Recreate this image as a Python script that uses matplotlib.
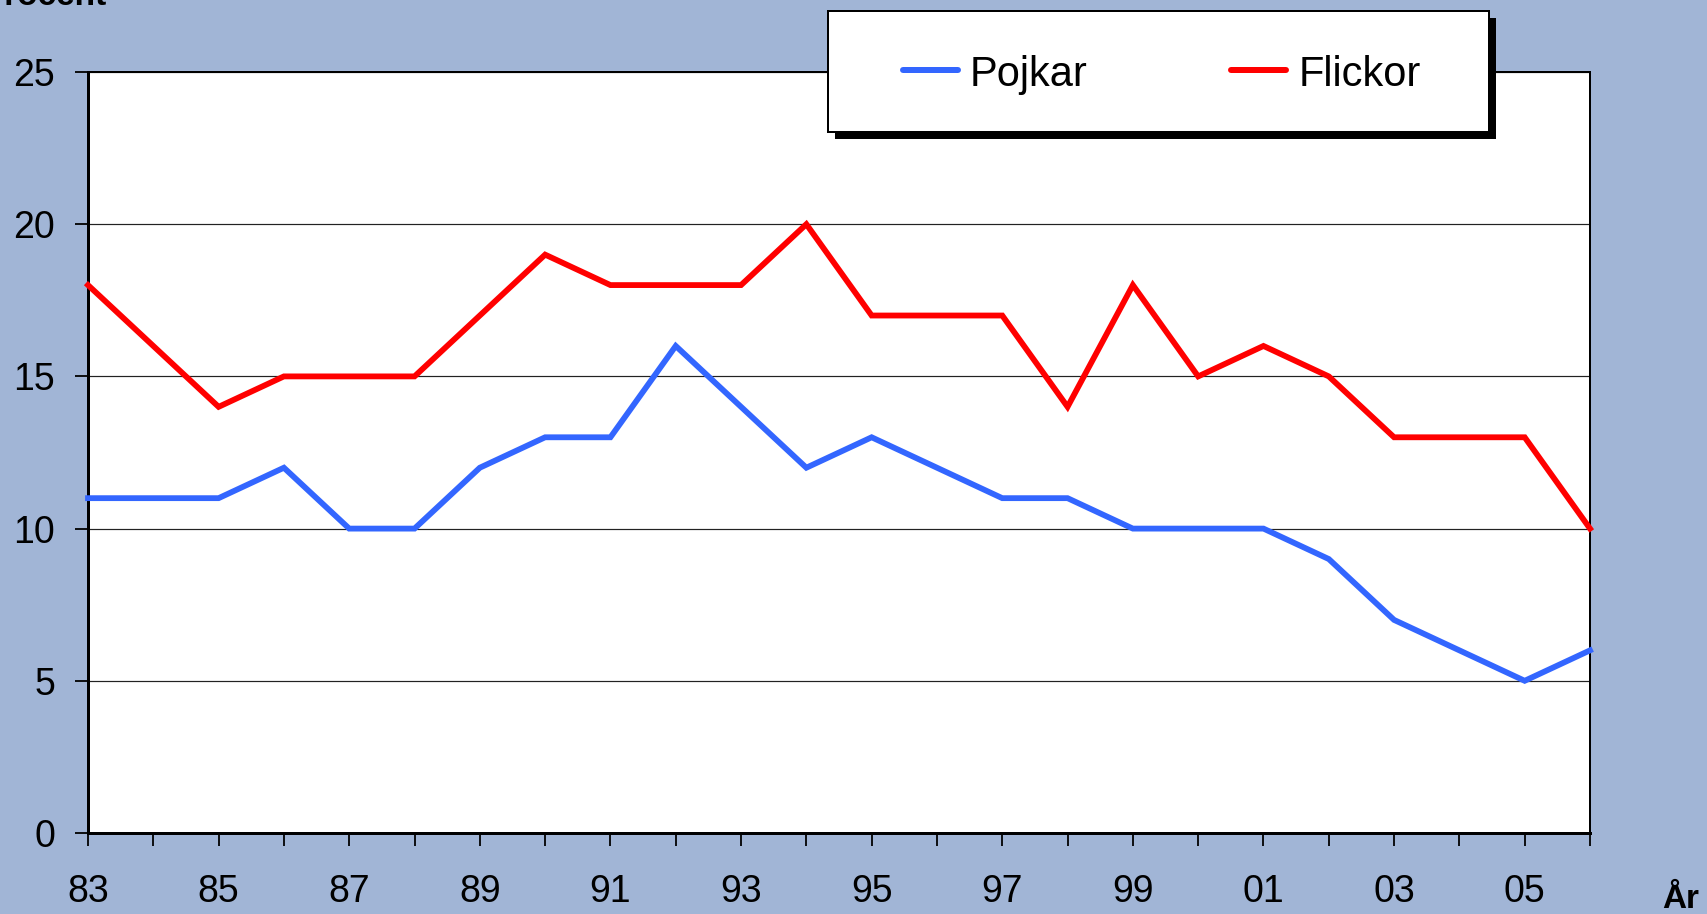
import matplotlib
matplotlib.use("Agg")
import matplotlib.pyplot as plt
from matplotlib.patches import Rectangle
from matplotlib.lines import Line2D

years = list(range(1983, 2007))
tick_labels = ["83", "85", "87", "89", "91", "93", "95", "97", "99", "01", "03", "05"]
pojkar = [11, 11, 11, 12, 10, 10, 12, 13, 13, 16, 14, 12, 13, 12, 11, 11, 10, 10, 10, 9, 7, 6, 5, 6]
flickor = [18, 16, 14, 15, 15, 15, 17, 19, 18, 18, 18, 20, 17, 17, 17, 14, 18, 15, 16, 15, 13, 13, 13, 10]

plt.rcParams['font.family'] = ['Liberation Sans', 'DejaVu Sans']
bg = '#A1B5D6'
blue = '#3366FF'
red = '#FF0000'

W, H = 1708, 914
PX = 72 / 100  # points per pixel at dpi 100

fig = plt.figure(figsize=(W / 100, H / 100), dpi=100, facecolor=bg)
ax = fig.add_axes([88 / W, 1 - 833 / H, (1590 - 88) / W, (833 - 72) / H])
ax.set_facecolor('white')

ax.plot(years, pojkar, color=blue, lw=5.8 * PX, solid_joinstyle='miter', zorder=3, clip_on=False)
ax.plot(years, flickor, color=red, lw=5.8 * PX, solid_joinstyle='miter', zorder=3, clip_on=False)

ax.set_xlim(1983, 2006)
ax.set_ylim(0, 25)
ax.set_yticks([0, 5, 10, 15, 20, 25])
ax.set_xticks(years)
ax.set_xticklabels([tick_labels[i // 2] if i % 2 == 0 else "" for i in range(len(years))])
ax.yaxis.grid(True, color='#222222', lw=1.2 * PX)
ax.set_axisbelow(True)
ax.tick_params(axis='both', direction='out', length=13 * PX, width=1.8 * PX,
               labelsize=27, colors='black')
ax.tick_params(axis='x', pad=28 * PX)
ax.tick_params(axis='y', pad=20 * PX)
for side in ['left', 'bottom']:
    ax.spines[side].set_linewidth(3 * PX)
for side in ['top', 'right']:
    ax.spines[side].set_linewidth(2 * PX)

# axis titles
fig.text(107 / W, 1 - 5 / H, "Procent", fontsize=24, fontweight='bold', va='baseline', ha='right')
fig.text(1662 / W, 1 - 908 / H, "År", fontsize=24, fontweight='bold', va='baseline', ha='left')

# legend box with drop shadow
lx0, ly0, lx1, ly1 = 828, 11, 1489, 132
sh = 7
fig.patches.append(Rectangle(((lx0 + sh) / W, 1 - (ly1 + sh) / H), (lx1 - lx0) / W, (ly1 - ly0) / H,
                             transform=fig.transFigure, facecolor='black', edgecolor='none', zorder=10))
fig.patches.append(Rectangle((lx0 / W, 1 - ly1 / H), (lx1 - lx0) / W, (ly1 - ly0) / H,
                             transform=fig.transFigure, facecolor='white', edgecolor='black',
                             lw=2 * PX, zorder=11))
ly = 1 - 70 / H
for x0, x1, tx, col, lab in [(903, 958, 970, blue, "Pojkar"), (1231, 1286, 1299, red, "Flickor")]:
    fig.add_artist(Line2D([x0 / W, x1 / W], [ly, ly], transform=fig.transFigure, color=col,
                          lw=6 * PX, solid_capstyle='round', zorder=12))
    fig.text(tx / W, 1 - 86 / H, lab, fontsize=30, va='baseline', ha='left', zorder=12)

fig.savefig("out.png", dpi=100, facecolor=bg)
